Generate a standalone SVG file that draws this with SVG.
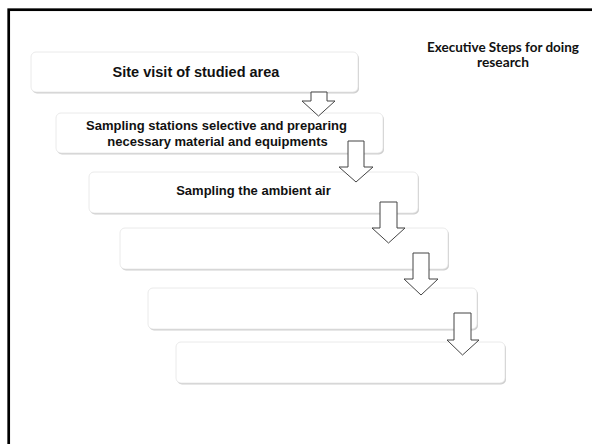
<svg xmlns="http://www.w3.org/2000/svg" width="592" height="444" viewBox="0 0 592 444">
  <style>
    .shadow { fill: #cfcfcf; }
    .box { fill: #ffffff; stroke: #e4e4e4; stroke-width: 0.8; }
    .label { font-family: "Liberation Sans", Arial, sans-serif; font-weight: bold; fill: #111111; text-anchor: middle; }
    .title { font-family: Lato, "Liberation Sans", sans-serif; font-weight: bold; fill: #111111; text-anchor: middle; font-size: 13.5px; }
    .arrow { fill: #ffffff; stroke: #444444; stroke-width: 1; stroke-linejoin: miter; }
  </style>

  <rect width="592" height="444" fill="#ffffff"/>
  <!-- slide frame -->
  <rect x="8.7" y="9.7" width="620" height="470" fill="none" stroke="#000000" stroke-width="2.7"/>

  <g id="title">
    <text class="title" x="503" y="52" textLength="152" lengthAdjust="spacingAndGlyphs">Executive Steps for doing</text>
    <text class="title" x="503" y="67" textLength="52" lengthAdjust="spacingAndGlyphs">research</text>
  </g>

  <g id="step1">
    <rect class="shadow" x="32" y="53.5" width="327" height="40" rx="5"/>
    <rect class="box" x="31" y="52" width="327" height="40" rx="5"/>
    <text class="label" x="196" y="77" font-size="14.5">Site visit of studied area</text>
  </g>

  <g id="step2">
    <rect class="shadow" x="57" y="114.5" width="327" height="40" rx="5"/>
    <rect class="box" x="56" y="113" width="327" height="40" rx="5"/>
    <text class="label" x="216.5" y="130" font-size="13">Sampling stations selective and preparing</text>
    <text class="label" x="217.5" y="146" font-size="13">necessary material and equipments</text>
  </g>

  <g id="step3">
    <rect class="shadow" x="90" y="173.5" width="329" height="41" rx="5"/>
    <rect class="box" x="89" y="172" width="329" height="41" rx="5"/>
    <text class="label" x="253.5" y="195" font-size="13">Sampling the ambient air</text>
  </g>

  <g id="step4">
    <rect class="shadow" x="121" y="229.5" width="328" height="41" rx="5"/>
    <rect class="box" x="120" y="228" width="328" height="41" rx="5"/>
  </g>

  <g id="step5">
    <rect class="shadow" x="149" y="289.5" width="329" height="41" rx="5"/>
    <rect class="box" x="148" y="288" width="329" height="41" rx="5"/>
  </g>

  <g id="step6">
    <rect class="shadow" x="177" y="343.5" width="329" height="41" rx="5"/>
    <rect class="box" x="176" y="342" width="329" height="41" rx="5"/>
  </g>

  <g id="connectors">
    <polygon class="arrow" points="311,92 327,92 327,101 335,101 318.5,116 302,101 311,101"/>
    <polygon class="arrow" points="348,141 364,141 364,167 373,167 356,182 339,167 348,167"/>
    <polygon class="arrow" points="380,202 397,202 397,228 405,228 388.5,243 372,228 380,228"/>
    <polygon class="arrow" points="413,253 429,253 429,279 438,279 421,295 404,279 413,279"/>
    <polygon class="arrow" points="454,313 471,313 471,340 479,340 462.5,355 447,340 454,340"/>
  </g>
</svg>
